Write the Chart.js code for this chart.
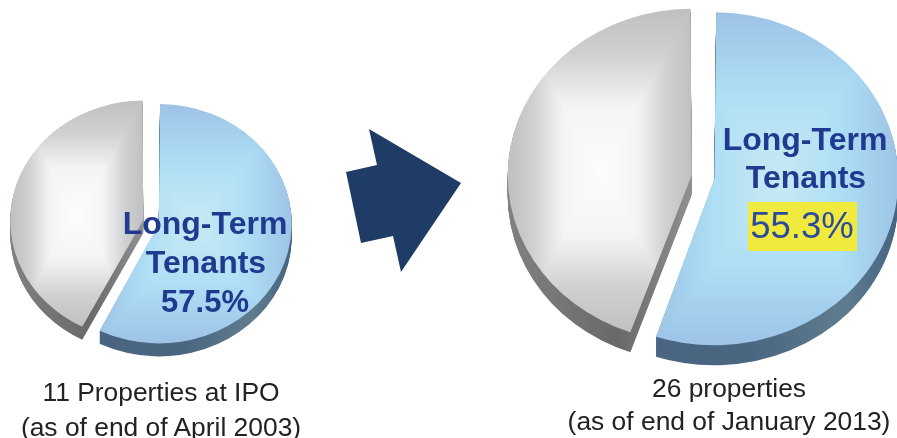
<!DOCTYPE html>
<html>
<head>
<meta charset="utf-8">
<script src="https://cdn.jsdelivr.net/npm/chart.js@4"></script>
<style>
html,body{margin:0;padding:0;background:#fff;width:897px;height:438px;overflow:hidden}
canvas{position:absolute}
.t{position:absolute;font-family:"Liberation Sans",Arial,sans-serif;line-height:1;white-space:nowrap;transform:translateX(-50%)}
.b{font-weight:bold;color:#1f3a8f}
.c{color:#222;font-size:26.4px}
#box{position:absolute;left:748px;top:202px;width:109px;height:49px;background:#f0ea3f}
svg{position:absolute;left:0;top:0}
</style>
</head>
<body>
<svg width="897" height="438"><polygon fill="#1f3c66" points="369,129 461,183 401,272 393,236 361,243 346,172 377,165"/></svg>
<canvas id="pieIpo" width="340" height="340" style="left:-19px;top:52px"></canvas>
<canvas id="pie2013" width="440" height="440" style="left:483px;top:-43px"></canvas>
<div id="box"></div>
<div class="t b" style="left:205px;top:207px;font-size:32px">Long-Term</div>
<div class="t b" style="left:206px;top:246px;font-size:32px">Tenants</div>
<div class="t b" id="valIpo" style="left:205px;top:286px;font-size:31px"></div>
<div class="t b" style="left:805px;top:123px;font-size:32px">Long-Term</div>
<div class="t b" style="left:806px;top:161px;font-size:32px">Tenants</div>
<div class="t" id="val2013" style="left:802px;top:208px;font-size:36.5px;color:#2c4a9c"></div>
<div class="t c" style="left:161px;top:379px">11 Properties at IPO</div>
<div class="t c" style="left:161px;top:414px">(as of end of April 2003)</div>
<div class="t c" style="left:729px;top:375px">26 properties</div>
<div class="t c" style="left:729px;top:408px">(as of end of January 2013)</div>
<script>
const sliceLabels = ['Long-Term Tenants', 'Others']
const sharesIpo = [57.5, 42.5]
const shares2013 = [55.3, 44.7]

document.getElementById('valIpo').textContent = sharesIpo[0].toFixed(1) + '%'
document.getElementById('val2013').textContent = shares2013[0].toFixed(1) + '%'

const blueStops = [[0, [200,233,243]], [0.5, [174,223,245]], [1, [157,195,230]]]
const greyStops = [[0, [252,252,252]], [0.4, [243,244,244]], [0.72, [207,208,210]], [1, [191,192,194]]]

function mix(stops, t){
    for(let i = 1; i < stops.length; i++){
        if(t <= stops[i][0]){
            const a = stops[i-1], b = stops[i]
            const k = (t - a[0]) / (b[0] - a[0])
            return a[1].map((v, n) => v + (b[1][n] - v) * k)
        }
    }
    return stops[stops.length-1][1]
}

// rectangular "path" gradient fitted to the bounding box of one slice
function slicePattern(size, radius, fromDeg, sweepDeg, stops){
    let x0 = 0, x1 = 0, y0 = 0, y1 = 0
    for(let d = 0; d <= sweepDeg; d++){
        const a = (fromDeg + d - 90) * Math.PI / 180
        x0 = Math.min(x0, Math.cos(a) * radius); x1 = Math.max(x1, Math.cos(a) * radius)
        y0 = Math.min(y0, Math.sin(a) * radius); y1 = Math.max(y1, Math.sin(a) * radius)
    }
    const mx = size/2 + (x0+x1)/2, my = size/2 + (y0+y1)/2
    const hw = (x1-x0)/2, hh = (y1-y0)/2
    const c = document.createElement('canvas')
    c.width = size; c.height = size
    const g = c.getContext('2d')
    const img = g.createImageData(size, size)
    for(let y = 0; y < size; y++){
        for(let x = 0; x < size; x++){
            const t = Math.min(1, Math.max(Math.abs(x-mx)/hw, Math.abs(y-my)/hh))
            const col = mix(stops, t), p = (y*size + x) * 4
            img.data[p] = col[0]; img.data[p+1] = col[1]; img.data[p+2] = col[2]; img.data[p+3] = 255
        }
    }
    g.putImageData(img, 0, 0)
    return g.createPattern(c, 'no-repeat')
}

// squashes the pie into an ellipse and stacks copies underneath for the rim
const tiltPlugin = {
    id: 'tilt',
    afterDatasetsUpdate(chart, args, opts){
        chart.getDatasetMeta(0).data.forEach(arc => {
            const fix = 1 - Math.sin(Math.min(Math.PI, arc.circumference))
            arc.outerRadius += opts.offset / 4 * (1 - fix)
        })
    },
    beforeDatasetsDraw(chart, args, opts){
        const ctx = chart.ctx
        const cx = chart.width/2, cy = chart.height/2, r = opts.radius
        ctx.save()
        ctx.translate(cx, cy)
        ctx.scale(1, opts.squash)
        ctx.translate(-cx, -cy)
        const sideBlue = ctx.createLinearGradient(cx-r, 0, cx+r, 0)
        sideBlue.addColorStop(0, '#46627f')
        sideBlue.addColorStop(0.6, '#4a6681')
        sideBlue.addColorStop(0.85, '#5f7c8f')
        sideBlue.addColorStop(1, '#456480')
        const sideGrey = ctx.createLinearGradient(cx-r, 0, cx, 0)
        sideGrey.addColorStop(0, '#808183')
        sideGrey.addColorStop(0.6, '#69696b')
        sideGrey.addColorStop(1, '#8f9092')
        const sides = [sideBlue, sideGrey]
        chart.getDatasetMeta(0).data.forEach((arc, i) => {
            const keep = arc.options
            arc.options = {...keep, backgroundColor: sides[i]}
            for(let d = opts.depth; d > 0; d--){
                ctx.save()
                ctx.translate(0, d / opts.squash)
                arc.draw(ctx)
                ctx.restore()
            }
            arc.options = keep
        })
    },
    afterDatasetsDraw(chart){
        chart.ctx.restore()
    }
}

function makePie(id, shares, size, radius, offset, squash, depth){
    const sweep = shares[0] * 3.6
    const patterns = [
        slicePattern(size, radius, 0, sweep, blueStops),
        slicePattern(size, radius, sweep, 360 - sweep, greyStops)
    ]
    return new Chart(document.getElementById(id).getContext('2d'), {
        type: 'pie',
        data: {
            labels: sliceLabels,
            datasets: [{
                data: shares,
                backgroundColor: patterns,
                borderWidth: 0,
                offset: offset
            }]
        },
        options: {
            responsive: false,
            animation: false,
            radius: radius - offset / 4,
            events: [],
            plugins: {
                legend: {display: false},
                tooltip: {enabled: false},
                tilt: {radius, offset, squash, depth}
            }
        },
        plugins: [tiltPlugin]
    })
}

makePie('pieIpo', sharesIpo, 340, 133, 32, 0.9, 13)
makePie('pie2013', shares2013, 440, 184, 46, 0.905, 20)
</script>
</body>
</html>
